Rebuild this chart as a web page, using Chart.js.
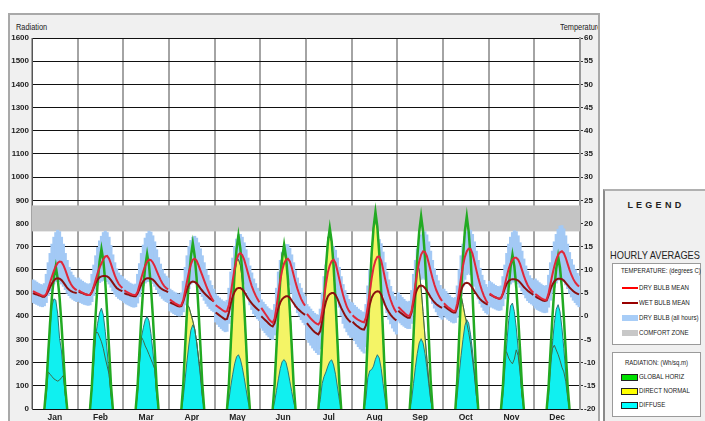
<!DOCTYPE html>
<html><head><meta charset="utf-8">
<script src="https://cdn.jsdelivr.net/npm/chart.js@4.4.0/dist/chart.umd.min.js"></script>
<style>
html,body{margin:0;padding:0;background:#fff;overflow:hidden;}
#wrap{position:relative;width:705px;height:421px;overflow:hidden;font-family:'Liberation Sans',Arial,sans-serif;color:#222;}
#frame{position:absolute;left:8px;top:13px;width:588px;height:420px;border:2px solid #a9a9a9;background:#f0f0f0;overflow:hidden;}
#radT{position:absolute;left:6px;top:7px;font-size:9px;transform:scaleX(0.82);transform-origin:left top;}
#tempT{position:absolute;left:550px;top:7px;font-size:9px;white-space:nowrap;transform:scaleX(0.82);transform-origin:left top;}
#c{position:absolute;left:0;top:0;}
.abs{position:absolute;white-space:nowrap;}
#lg{position:absolute;left:603px;top:189px;width:110px;height:240px;border-left:2px solid #8a8a8a;border-top:2px solid #b0b0b0;background:#f0f0f0;}
.box{position:absolute;background:#fff;border:1px solid #9a9a9a;}
.it{position:absolute;font-size:7.5px;line-height:8px;white-space:nowrap;transform:scaleX(0.82);transform-origin:left top;}
.ct{position:absolute;font-size:7.5px;line-height:8px;white-space:nowrap;text-align:center;transform:scaleX(0.8);transform-origin:center top;}
.sw{position:absolute;}
</style></head>
<body><div id="wrap">
<div id="frame"><div id="radT">Radiation</div><div id="tempT">Temperature</div></div>
<canvas id="c" width="600" height="421"></canvas>
<div id="lg"></div>
<div class="abs" style="left:604px;top:200px;width:101px;text-align:center;font-weight:bold;font-size:9px;letter-spacing:0.4px;">L E G E N D</div>
<div class="abs" style="left:604px;top:249px;width:101px;text-align:center;font-size:10.5px;transform:scaleX(0.88);transform-origin:center top;">HOURLY AVERAGES</div>
<div class="box" style="left:612px;top:263px;width:87px;height:80px;"></div>
<div class="ct" style="left:612px;top:267px;width:89px;">TEMPERATURE: (degrees C)</div>
<div class="sw" style="left:622px;top:287px;width:16px;height:2px;background:#ff0000;"></div>
<div class="it" style="left:639px;top:284px;">DRY BULB MEAN</div>
<div class="sw" style="left:622px;top:302px;width:16px;height:2px;background:#990000;"></div>
<div class="it" style="left:639px;top:299px;">WET BULB MEAN</div>
<div class="sw" style="left:622px;top:315px;width:16px;height:6px;background:#a8cdf7;"></div>
<div class="it" style="left:639px;top:314px;">DRY BULB (all hours)</div>
<div class="sw" style="left:622px;top:330px;width:16px;height:6px;background:#c8c8c8;"></div>
<div class="it" style="left:639px;top:329px;">COMFORT ZONE</div>
<div class="box" style="left:612px;top:352px;width:87px;height:63px;"></div>
<div class="ct" style="left:612px;top:359px;width:89px;">RADIATION: (Wh/sq.m)</div>
<div class="sw" style="left:621px;top:374px;width:15px;height:5px;background:#00e000;border:1px solid #222;"></div>
<div class="it" style="left:639px;top:373px;">GLOBAL HORIZ</div>
<div class="sw" style="left:621px;top:388px;width:15px;height:5px;background:#ffff00;border:1px solid #222;"></div>
<div class="it" style="left:639px;top:387px;">DIRECT NORMAL</div>
<div class="sw" style="left:621px;top:402px;width:15px;height:5px;background:#00ffff;border:1px solid #222;"></div>
<div class="it" style="left:639px;top:401px;">DIFFUSE</div>
</div>
<script>
const months = ['Jan','Feb','Mar','Apr','May','Jun','Jul','Aug','Sep','Oct','Nov','Dec'];
const radHours = [6,7,8,9,10,11,12,13,14,15,16,17,18];
const comfortZone = [18.3, 23.9];

// Temperatures (deg C), 24 hourly values per month
const dryBulbMean = [
[5.4,5.2,5.0,4.8,4.6,4.4,4.4,4.8,6.0,7.3,8.6,9.8,10.8,11.5,11.8,11.7,11.0,10.0,8.8,7.7,6.9,6.3,5.9,5.6],
[5.6,5.3,5.1,4.9,4.7,4.6,4.6,5.2,6.5,7.9,9.3,10.5,11.4,12.3,12.9,13.0,12.4,11.3,10.0,8.8,7.8,7.0,6.5,6.1],
[5.6,5.3,5.1,4.9,4.7,4.6,4.6,5.3,6.8,8.3,9.7,10.9,11.8,12.2,12.1,11.6,10.8,9.8,8.8,7.9,7.1,6.5,6.1,5.8],
[3.6,3.3,3.0,2.7,2.5,2.3,2.4,3.5,5.5,7.6,9.6,11.2,12.2,12.4,12.0,11.0,9.9,8.8,7.7,6.6,5.6,4.7,3.9,3.2],
[2.4,2.1,1.8,1.5,1.2,1.0,1.1,2.5,5.0,7.8,10.3,12.1,13.3,13.6,13.2,12.2,10.8,9.3,7.8,6.5,5.4,4.5,3.7,3.0],
[1.8,1.2,0.6,0.0,-0.6,-1.1,-1.4,-0.5,2.0,5.0,7.8,10.0,11.4,12.2,12.4,11.8,10.5,8.9,7.3,5.9,4.7,3.7,2.9,2.3],
[0.5,0.0,-0.5,-0.9,-1.3,-1.6,-1.8,-1.2,1.0,4.0,7.0,9.5,11.0,11.9,12.2,11.5,9.8,8.0,6.2,4.6,3.2,2.0,1.2,0.7],
[0.2,-0.2,-0.5,-0.8,-1.0,-1.2,-1.3,-0.3,2.2,5.2,8.1,10.5,12.0,12.8,12.9,12.0,10.2,8.2,6.4,4.8,3.5,2.4,1.5,0.8],
[2.0,1.6,1.2,0.8,0.4,0.1,0.1,1.2,3.8,6.8,9.5,11.8,13.3,14.0,13.9,13.0,11.5,9.8,8.2,6.8,5.6,4.7,3.9,3.3],
[2.8,2.4,2.0,1.7,1.4,1.1,1.2,2.8,5.5,8.4,10.9,12.8,14.0,14.6,14.5,13.5,11.8,10.0,8.3,6.8,5.5,4.4,3.5,2.8],
[4.9,4.6,4.3,4.1,3.9,3.8,3.9,5.0,6.8,8.6,10.2,11.4,12.2,12.6,12.6,12.2,11.3,10.0,8.7,7.6,6.7,6.0,5.5,5.1],
[4.8,4.5,4.2,3.9,3.7,3.5,3.6,5.0,7.0,9.0,10.8,12.2,13.2,13.8,14.0,13.6,12.6,11.3,10.0,8.9,8.0,7.3,6.8,6.4]
];
const wetBulbMean = [
[5.0,4.8,4.7,4.5,4.4,4.2,4.2,4.6,5.4,6.3,7.1,7.7,8.1,8.2,8.1,7.8,7.3,6.7,6.1,5.7,5.4,5.2,5.1,5.0],
[5.3,5.1,5.0,4.8,4.7,4.6,4.6,5.2,6.2,7.2,7.9,8.4,8.6,8.7,8.7,8.6,8.3,7.8,7.2,6.6,6.1,5.8,5.6,5.4],
[5.0,4.8,4.7,4.5,4.4,4.3,4.3,4.9,5.9,6.9,7.6,8.0,8.2,8.2,8.1,7.9,7.5,7.0,6.5,6.1,5.8,5.6,5.4,5.2],
[3.0,2.8,2.6,2.4,2.2,2.1,2.2,3.2,4.6,5.9,6.8,7.3,7.5,7.4,7.1,6.6,6.0,5.5,5.0,4.6,4.2,3.8,3.5,3.2],
[0.8,0.5,0.2,-0.1,-0.4,-0.7,-0.6,0.8,2.8,4.3,5.3,5.9,6.1,6.1,5.8,5.3,4.6,3.9,3.3,2.8,2.3,1.9,1.5,1.2],
[0.0,-0.4,-0.8,-1.2,-1.6,-2.0,-2.2,-1.5,0.3,1.8,3.0,3.7,4.1,4.3,4.3,4.0,3.4,2.8,2.2,1.7,1.3,0.9,0.6,0.3],
[-1.5,-2.0,-2.5,-3.0,-3.4,-3.7,-3.9,-3.2,-1.0,1.5,3.2,4.3,4.8,5.0,5.0,4.6,3.8,2.8,1.8,1.0,0.2,-0.4,-0.9,-1.3],
[-1.2,-1.6,-2.0,-2.3,-2.6,-2.8,-2.9,-2.0,0.2,2.5,4.0,4.8,5.2,5.4,5.3,4.7,3.6,2.5,1.6,0.9,0.3,-0.2,-0.6,-0.9],
[1.2,0.8,0.5,0.2,-0.1,-0.3,-0.3,0.8,3.0,4.8,5.9,6.5,6.6,6.5,6.1,5.5,4.8,4.1,3.5,3.0,2.6,2.3,2.0,1.8],
[2.2,1.9,1.6,1.3,1.0,0.8,0.8,2.0,4.0,5.6,6.6,7.1,7.2,7.1,6.7,6.1,5.4,4.8,4.2,3.7,3.3,3.0,2.7,2.5],
[4.7,4.5,4.3,4.1,3.9,3.8,3.9,4.8,6.0,7.0,7.6,7.9,8.0,8.0,7.9,7.7,7.3,6.8,6.3,5.9,5.5,5.2,4.9,4.6],
[4.3,4.0,3.8,3.6,3.4,3.3,3.4,4.5,5.8,6.8,7.5,7.9,8.1,8.1,8.0,7.7,7.2,6.7,6.2,5.8,5.4,5.1,4.9,4.7]
];
const dryBulbMax = [
[7.8,7.6,7.3,7.0,6.8,6.7,7.0,9.0,11.5,13.5,15.5,17.0,18.0,18.5,18.2,17.0,15.5,13.5,12.0,10.5,9.5,8.8,8.3,8.0],
[8.2,7.8,7.5,7.2,7.0,6.8,7.0,9.0,11.0,13.0,14.8,16.2,17.2,18.0,18.3,18.0,17.0,15.2,13.2,11.5,10.2,9.3,8.8,8.5],
[8.0,7.7,7.4,7.1,6.9,6.7,6.9,9.0,11.3,13.5,15.3,16.8,17.8,18.3,18.1,17.3,16.0,14.3,12.6,11.2,10.0,9.1,8.6,8.2],
[5.8,5.5,5.2,5.0,4.8,4.7,5.0,7.5,10.5,13.0,15.0,16.3,17.0,17.2,16.8,15.8,14.5,13.0,11.5,10.0,8.8,7.6,6.6,5.8],
[4.8,4.3,3.9,3.5,3.2,3.0,3.4,6.0,9.5,12.5,15.0,16.6,17.5,17.6,17.0,15.8,14.3,12.5,10.8,9.3,8.0,7.0,6.0,5.3],
[3.5,3.0,2.5,2.0,1.6,1.3,1.2,2.5,6.0,9.5,12.0,13.8,14.8,15.4,15.4,14.6,13.2,11.5,9.8,8.2,7.0,6.0,5.0,4.2],
[2.5,2.0,1.5,1.0,0.6,0.3,0.2,1.5,5.0,8.5,11.0,13.0,14.3,15.0,15.0,14.2,12.5,10.5,8.5,6.8,5.5,4.5,3.6,3.0],
[2.8,2.3,1.9,1.5,1.2,0.9,0.8,2.5,6.5,10.0,12.5,14.5,15.8,16.5,16.5,15.6,13.8,11.5,9.5,7.8,6.4,5.2,4.2,3.4],
[5.0,4.5,4.0,3.6,3.2,3.0,3.2,5.5,9.0,12.0,14.5,16.3,17.5,18.0,18.2,17.5,16.0,14.0,12.0,10.2,8.8,7.6,6.6,5.8],
[5.8,5.3,4.8,4.4,4.0,3.8,4.0,6.5,10.0,13.0,15.5,17.2,18.2,18.6,18.5,17.6,16.0,14.0,12.0,10.3,8.8,7.7,6.8,6.2],
[7.5,7.2,6.9,6.6,6.4,6.3,6.5,8.5,11.0,13.5,15.5,17.0,18.0,18.4,18.2,17.3,15.8,14.0,12.3,10.8,9.6,8.7,8.1,7.7],
[8.0,7.6,7.2,6.9,6.6,6.4,6.6,8.8,11.5,14.0,16.0,17.6,18.7,19.4,19.5,18.8,17.3,15.5,13.7,12.2,11.0,10.0,9.2,8.6]
];
const dryBulbMin = [
[3.0,2.8,2.6,2.4,2.2,2.1,2.3,3.0,4.5,5.5,6.5,7.0,7.5,7.5,7.5,7.0,6.5,5.8,5.0,4.5,4.0,3.7,3.4,3.2],
[3.3,3.0,2.8,2.6,2.5,2.4,2.5,3.2,4.5,5.8,6.8,7.3,7.6,7.8,7.8,7.5,7.0,6.3,5.5,4.8,4.3,3.9,3.6,3.4],
[3.0,2.7,2.5,2.3,2.1,2.0,2.1,2.9,4.3,5.6,6.6,7.2,7.5,7.6,7.5,7.1,6.5,5.8,5.0,4.4,3.9,3.5,3.2,3.0],
[1.2,0.9,0.6,0.4,0.2,0.1,0.3,1.0,2.5,4.5,6.0,7.0,7.5,7.5,7.0,6.2,5.2,4.3,3.5,2.8,2.2,1.7,1.3,1.0],
[-1.2,-1.7,-2.2,-2.6,-3.0,-3.3,-3.2,-1.5,1.5,4.5,6.5,8.0,8.8,9.0,8.5,7.0,5.5,4.0,2.5,1.5,0.6,0.0,-0.5,-0.9],
[-2.5,-3.0,-3.5,-4.0,-4.4,-4.8,-5.0,-4.0,-1.0,2.0,5.0,7.0,8.0,8.5,8.0,6.8,5.0,3.5,2.0,0.8,0.0,-0.7,-1.3,-1.8],
[-5.0,-5.6,-6.2,-6.8,-7.3,-7.8,-8.2,-7.0,-3.5,0.0,3.5,6.0,7.5,8.0,7.5,6.0,4.0,2.0,0.0,-1.5,-2.5,-3.3,-4.0,-4.5],
[-4.5,-5.2,-5.9,-6.5,-7.0,-7.5,-7.9,-6.5,-3.0,0.5,4.0,6.5,8.0,8.5,8.0,6.5,4.5,2.5,0.8,-0.6,-1.6,-2.5,-3.2,-3.8],
[-1.0,-1.4,-1.8,-2.1,-2.4,-2.6,-2.6,-1.5,1.0,3.5,5.5,7.0,8.0,8.3,8.0,7.0,5.5,4.0,2.8,1.8,1.0,0.3,-0.2,-0.6],
[0.2,-0.2,-0.6,-0.9,-1.2,-1.4,-1.3,-0.2,2.0,4.5,6.5,8.0,9.0,9.3,9.0,8.0,6.5,5.0,3.8,2.8,2.0,1.3,0.8,0.5],
[2.2,2.0,1.8,1.6,1.4,1.3,1.4,2.3,3.8,5.2,6.3,7.0,7.4,7.5,7.4,7.0,6.3,5.5,4.7,4.0,3.4,3.0,2.7,2.4],
[1.8,1.5,1.3,1.1,0.9,0.8,0.9,2.0,3.5,5.0,6.3,7.2,7.8,8.0,8.0,7.5,6.8,6.0,5.0,4.2,3.5,3.0,2.5,2.1]
];

// Radiation (Wh/sq.m), values for hours 6..18 of each month
const globalHoriz = [
[0,92,236,372,488,568,615,562,480,365,230,90,0],
[0,104,262,414,545,635,690,640,548,414,262,104,0],
[0,100,254,401,528,615,668,618,528,401,254,100,0],
[0,107,272,429,565,658,715,660,565,429,272,107,0],
[0,112,285,449,592,689,749,692,592,449,285,112,0],
[0,106,269,425,559,651,708,655,559,425,269,106,0],
[0,117,296,468,616,718,780,722,616,468,296,117,0],
[0,127,323,509,671,781,849,785,671,509,323,127,0],
[0,125,316,499,656,765,831,768,656,499,316,125,0],
[0,125,316,499,656,768,831,765,656,499,316,125,0],
[0,100,253,399,525,612,665,615,525,399,253,100,0],
[0,99,250,395,520,605,658,608,520,395,250,99,0]
];
const directNormal = [
[0,60,160,150,140,130,125,120,125,135,145,60,0],
[0,95,230,330,330,310,290,260,220,185,150,70,0],
[0,80,200,310,295,272,255,235,215,195,172,65,0],
[0,100,265,450,440,410,380,345,290,220,150,60,0],
[0,105,280,440,580,640,645,620,560,440,280,105,0],
[0,100,265,420,600,675,680,640,560,440,280,100,0],
[0,115,290,460,610,740,755,720,620,470,290,115,0],
[0,125,320,500,670,790,810,780,680,510,320,125,0],
[0,120,310,540,630,600,520,420,315,220,125,45,0],
[0,110,300,490,450,405,370,330,280,215,145,60,0],
[0,100,250,245,220,205,195,215,255,230,160,60,0],
[0,80,200,260,275,255,235,210,180,160,120,50,0]
];
const diffuseRad = [
[0,120,250,350,445,475,470,410,305,250,150,60,0],
[0,90,200,320,370,415,435,405,335,250,150,55,0],
[0,70,200,310,350,385,399,380,325,250,170,60,0],
[0,50,130,210,280,340,363,345,290,220,140,50,0],
[0,40,100,150,195,225,234,215,180,135,85,35,0],
[0,30,80,130,175,205,213,200,165,120,75,30,0],
[0,40,110,140,160,185,205,212,190,150,95,40,0],
[0,45,135,165,170,185,215,234,220,175,110,45,0],
[0,40,110,180,240,285,303,285,240,180,110,40,0],
[0,60,150,230,300,360,385,370,320,250,160,60,0],
[0,60,170,280,380,445,457,420,350,260,160,60,0],
[0,60,170,280,370,430,450,420,350,260,160,60,0]
];

function tempSeries(arr){
  const out=[];
  arr.forEach((vals,m)=>{ vals.forEach((v,h)=>out.push({x:m*24+h+0.5,y:v})); out.push({x:m*24+24,y:null}); });
  return out;
}
function radSeries(arr){
  const out=[];
  arr.forEach((vals,m)=>{ radHours.forEach((h,i)=>out.push({x:m*24+h+0.5,y:vals[i]})); out.push({x:m*24+radHours[radHours.length-1]+1,y:null}); });
  return out;
}
function bandSeries(mins,maxs){
  const out=[];
  mins.forEach((vals,m)=>{ vals.forEach((v,h)=>out.push({x:m*24+h+0.5,y:[v,maxs[m][h]]})); });
  return out;
}

const F = "'Liberation Sans',Arial,sans-serif";

const bgPlugin = {
  id:'bg',
  beforeDraw(c){
    const {ctx,chartArea:a}=c;
    ctx.save(); ctx.fillStyle='#ffffff'; ctx.fillRect(a.left,a.top,a.width,a.height); ctx.restore();
  },
  beforeDatasetsDraw(c){
    const {ctx,chartArea:a,scales}=c;
    const t=scales.y2.getPixelForValue(comfortZone[1]);
    const b=scales.y2.getPixelForValue(comfortZone[0]);
    ctx.save(); ctx.fillStyle='#c4c4c4'; ctx.fillRect(a.left,t,a.width,b-t); ctx.restore();
  }
};

new Chart(document.getElementById('c'),{
  type:'line',
  data:{datasets:[
    {label:'DRY BULB MEAN',data:tempSeries(dryBulbMean),yAxisID:'y2',borderColor:'#e0283a',borderWidth:2,pointRadius:0,fill:false,spanGaps:false,tension:0},
    {label:'WET BULB MEAN',data:tempSeries(wetBulbMean),yAxisID:'y2',borderColor:'#8c1010',borderWidth:2,pointRadius:0,fill:false,spanGaps:false,tension:0},
    {label:'GLOBAL HORIZ',data:radSeries(globalHoriz),yAxisID:'y',borderColor:'#22aa22',borderWidth:2.5,pointRadius:0,fill:false,spanGaps:false,tension:0},
    {label:'DIRECT NORMAL line',data:radSeries(directNormal),yAxisID:'y',borderColor:'#3d6b4a',borderWidth:1,pointRadius:0,fill:false,spanGaps:false,tension:0},
    {label:'DIFFUSE',data:radSeries(diffuseRad),yAxisID:'y',borderColor:'#2a7a7a',borderWidth:1,backgroundColor:'#10f0f0',pointRadius:0,fill:'origin',spanGaps:false,tension:0},
    {label:'DIRECT NORMAL',data:radSeries(directNormal),yAxisID:'y',borderColor:'#9a9a3a',borderWidth:1,backgroundColor:'#f4f466',pointRadius:0,fill:'origin',spanGaps:false,tension:0},
    {type:'bar',label:'DRY BULB (all hours)',data:bandSeries(dryBulbMin,dryBulbMax),yAxisID:'y2',xAxisID:'x',backgroundColor:'#a3c9f5',borderWidth:0,inflateAmount:0.6,barPercentage:1,categoryPercentage:1,grouped:false}
  ]},
  options:{
    responsive:false,animation:false,devicePixelRatio:1,
    layout:{padding:{top:38,left:0,right:0,bottom:0},autoPadding:false},
    plugins:{legend:{display:false},tooltip:{enabled:false}},
    scales:{
      x:{type:'linear',min:0,max:288,position:'bottom',z:1,offset:false,
        grid:{display:false,drawTicks:false,tickLength:0},border:{display:false},
        afterBuildTicks(s){ s.ticks = months.map((_,i)=>({value:i*24+12})); },
        ticks:{autoSkip:false,maxRotation:0,minRotation:0,padding:4,color:'#222',font:{family:F,size:8.5,weight:'bold'},callback:(v,i)=>months[i]},
        afterFit(s){ s.height=12; }},
      x2:{type:'linear',min:0,max:288,position:'bottom',z:1,offset:false,
        ticks:{display:false,stepSize:24},grid:{color:'#a4a4a4',lineWidth:2,drawTicks:false},border:{display:false},
        afterFit(s){ s.height=0; }},
      y:{type:'linear',min:0,max:1600,position:'left',z:1,
        ticks:{stepSize:100,autoSkip:false,padding:3,color:'#222',font:{family:F,size:8,weight:'bold'},callback:v=>String(v)},
        grid:{color:'#111',lineWidth:1,drawTicks:false},border:{color:'#555',width:1},
        afterFit(s){ s.width=32; }},
      y2:{type:'linear',min:-20,max:60,position:'right',z:1,
        ticks:{stepSize:5,autoSkip:false,padding:1,color:'#222',font:{family:F,size:8,weight:'bold'},callback:v=>String(v)},
        grid:{drawOnChartArea:false,color:'#333',tickLength:3},border:{color:'#999',width:2},
        afterFit(s){ s.width=20; }}
    }
  },
  plugins:[bgPlugin]
});
</script>
</body></html>
